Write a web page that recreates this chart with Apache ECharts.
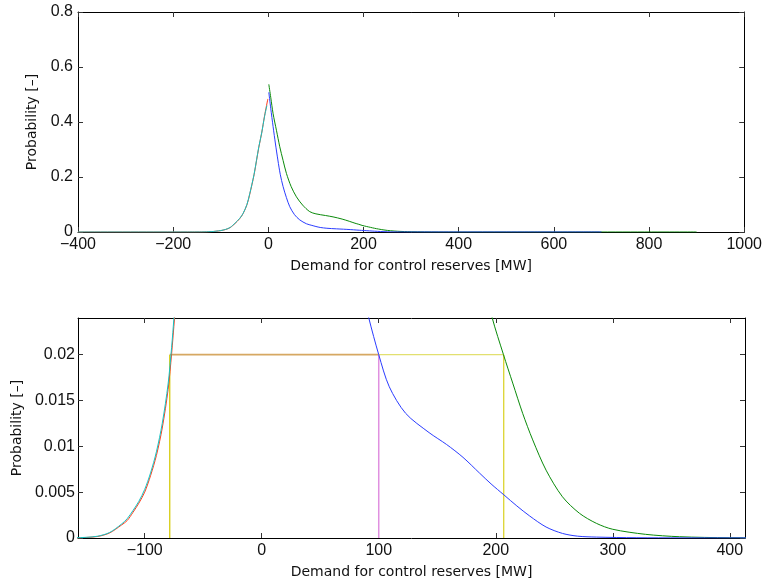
<!DOCTYPE html>
<html>
<head>
<meta charset="utf-8">
<script src="https://cdn.jsdelivr.net/npm/echarts@6/dist/echarts.min.js"></script>
<style>
  html, body { margin: 0; padding: 0; background: #fff; }
  #chart { width: 765px; height: 584px; }
</style>
</head>
<body>
<div id="chart"></div>
<script>
// left tail (negative demand), two nearly identical curves
var cyanCurve = [[-400,0],[-200,0],[-170,0.00002],[-160,0.00003],[-150,0.00007],[-140,0.0002],[-130,0.0006],[-120,0.0015],[-115,0.0021],
	[-110,0.003],[-105,0.004],[-100,0.0053],[-95,0.0071],[-90,0.0094],[-85,0.0125],[-80,0.0168],[-77,0.0208],[-75,0.024],
	[-70,0.032],[-60,0.05],[-53,0.068],[-45,0.1],[-39,0.14],[-30,0.21],[-25,0.26],[-20,0.31],[-14,0.36],[-8,0.42],[-3,0.46]];
var redCurve = [[-400,0],[-200,0],[-170,0.00001],[-160,0.00002],[-150,0.00006],[-140,0.00017],[-130,0.00055],[-120,0.0014],[-115,0.0019],
	[-110,0.0028],[-105,0.0038],[-100,0.005],[-95,0.0068],[-90,0.009],[-85,0.012],[-80,0.0162],[-77,0.0201],[-74.5,0.024],
	[-70,0.031],[-60,0.049],[-53,0.067],[-45,0.099],[-39,0.138],[-30,0.208],[-25,0.258],[-20,0.308],[-14,0.36],[-8,0.422],[-1,0.484]];
// right side curves
var blueCurve = [[1,0.508],[5,0.45],[10,0.383],[15,0.32],[20,0.262],[25,0.21],[31,0.165],[38,0.125],[45,0.092],[55,0.063],
	[66,0.044],[80,0.03],[91.5,0.024],[100,0.02],[109,0.0165],[123,0.0136],[143,0.0115],[158,0.0102],[172,0.0088],[186,0.0071],
	[196,0.0059],[207,0.0047],[218,0.0035],[229,0.0024],[243,0.0012],[257,0.0005],[270,0.0002],[286,0.0001],[320,0.00003],
	[400,0.00001],[700,0]];
var greenCurve = [[1,0.537],[5,0.49],[10,0.43],[17,0.37],[24,0.31],[31,0.26],[38,0.213],[48,0.165],[59,0.128],[72,0.098],
	[87,0.074],[100,0.066],[120,0.06],[136,0.055],[155,0.047],[170,0.039],[182,0.032],[190,0.028],[197,0.024],[206.6,0.02],
	[214.5,0.0169],[223,0.0136],[231.6,0.0107],[243,0.0074],[257,0.0045],[271.5,0.0027],[286,0.0016],[300,0.00095],
	[328,0.0004],[357,0.00014],[400,0.00003],[500,0.00001],[900,0]];

// quantile markers in the zoomed panel
var level = 0.02;
var qLeft = -78.6;
var qBlue = 100;
var qGreen = 206.8;

var topXTicks = [-400,-200,0,200,400,600,800,1000];
var topYTicks = [0,0.2,0.4,0.6,0.8];
var botXTicks = [-100,0,100,200,300,400];
var botYTicks = [0,0.005,0.01,0.015,0.02];

var labelFont = 'Liberation Sans, Arial, Helvetica, sans-serif';
var nameFont = 'DejaVu Sans, sans-serif';
var minus = function(v){ return String(v).replace('-', '\u2212'); };

function xAx(grid, min, max, ticks, main) {
	return {
		type: 'value', gridIndex: grid, min: min, max: max,
		position: main ? 'bottom' : 'top',
		name: main ? 'Demand for control reserves [MW]' : '',
		nameLocation: 'middle', nameGap: 27,
		nameTextStyle: { color: '#111', fontSize: 14, fontFamily: nameFont },
		splitLine: { show: false },
		axisLine: { show: true, onZero: false, lineStyle: { color: '#000', width: 1 } },
		axisTick: { show: true, inside: true, length: 5, customValues: ticks, lineStyle: { color: '#333' } },
		axisLabel: { show: main, customValues: ticks, formatter: minus, margin: 5,
			color: '#111', fontSize: 16, fontFamily: labelFont, showMinLabel: true, showMaxLabel: true }
	};
}
function yAx(grid, min, max, ticks, main, gap, lm) {
	return {
		type: 'value', gridIndex: grid, min: min, max: max,
		position: main ? 'left' : 'right',
		name: main ? 'Probability [\u2013]' : '',
		nameLocation: 'middle', nameGap: gap,
		nameTextStyle: { color: '#111', fontSize: 14, fontFamily: nameFont },
		splitLine: { show: false },
		axisLine: { show: true, onZero: false, lineStyle: { color: '#000', width: 1 } },
		axisTick: { show: true, inside: true, length: 5, customValues: ticks, lineStyle: { color: '#333' } },
		axisLabel: { show: main, customValues: ticks, margin: lm,
			color: '#111', fontSize: 16, fontFamily: labelFont }
	};
}
function curve(name, data, color, xi, yi) {
	return { name: name, type: 'line', xAxisIndex: xi, yAxisIndex: yi, data: data,
		showSymbol: false, symbol: 'none', smooth: 0.3, clip: true,
		lineStyle: { color: color, width: 1 } };
}
function seg(data, color, xi, yi, w) {
	return { type: 'line', xAxisIndex: xi, yAxisIndex: yi, data: data,
		symbol: 'none', clip: true, lineStyle: { color: color, width: w } };
}

var chart = echarts.init(document.getElementById('chart'));
var option = {
	backgroundColor: '#fff',
	animation: false,
	grid: [
		{ left: 78, top: 12, width: 667, height: 220 },
		{ left: 78, top: 318, width: 667, height: 220 }
	],
	xAxis: [
		xAx(0, -400, 1000, topXTicks, true),
		xAx(0, -400, 1000, topXTicks, false),
		xAx(1, -157, 413, botXTicks, true),
		xAx(1, -157, 413, botXTicks, false)
	],
	yAxis: [
		yAx(0, 0, 0.8, topYTicks, true, 36, 5),
		yAx(0, 0, 0.8, topYTicks, false, 36, 5),
		yAx(1, 0, 0.024, botYTicks, true, 54, 3),
		yAx(1, 0, 0.024, botYTicks, false, 54, 3)
	],
	series: [
		curve('green', greenCurve, '#0a8a0a', 0, 0),
		curve('blue', blueCurve, '#2a3cff', 0, 0),
		curve('red', redCurve, '#ff3a1a', 0, 0),
		curve('cyan', cyanCurve, '#12c4c4', 0, 0),

		seg([[qLeft, level], [qBlue, level]], '#d6a862', 2, 2, 1.6),
		seg([[qBlue, level], [qGreen, level]], '#e2e070', 2, 2, 1.3),
		seg([[qLeft, 0], [qLeft, level]], '#d6cc10', 2, 2, 1.3),
		seg([[qBlue, 0], [qBlue, level]], '#e090e0', 2, 2, 1.5),
		seg([[qGreen, 0], [qGreen, level]], '#dcd430', 2, 2, 1.3),

		curve('green', greenCurve, '#0a8a0a', 2, 2),
		curve('blue', blueCurve, '#2a3cff', 2, 2),
		curve('red', redCurve, '#ff3a1a', 2, 2),
		curve('cyan', cyanCurve, '#12c4c4', 2, 2)
	]
};
chart.setOption(option);
</script>
</body>
</html>
